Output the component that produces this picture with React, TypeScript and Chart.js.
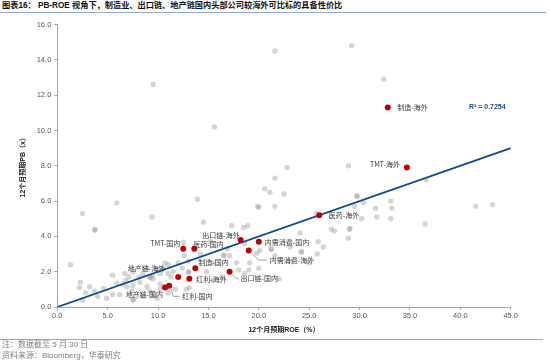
import React, { useEffect, useRef } from "react";
import { Chart, registerables } from "chart.js";

Chart.register(...registerables);

// ---------- data ----------
const GRAY_ROE = [
  29.2, 21.6, 9.5, 32.4, 15.6, 22.8, 28.9, 21.6, 36.6, 20.6,
  21.1, 22.5, 29.7, 29.8, 13.9, 5.9, 19.9, 20.0, 21.6, 30.4,
  33.1, 31.6, 33.2, 41.5, 43.2, 2.5, 9.4, 25.7, 29.5, 30.2,
  31.7, 33.1, 36.5, 14.5, 17.3, 18.5, 18.9, 3.7, 3.75, 27.2,
  27.5, 29.0, 29.05, 28.9, 24.1, 25.9, 26.4, 24.2, 24.25, 25.8,
  25.0, 23.1, 22.0, 12.5, 15.2, 20.1, 21.2, 21.25, 21.6, 23.0,
  16.5, 16.55, 17.1, 19.1, 20.0, 17.8, 18.0, 18.6, 19.0, 16.4,
  15.4, 14.8, 15.5, 14.2, 12.6, 13.0, 13.05, 13.0, 12.4, 10.7,
  11.0, 11.5, 12.8, 13.1, 11.7, 9.2, 9.25, 9.5, 10.2, 9.9,
  9.5, 8.2, 7.5, 7.4, 7.5, 7.55, 6.8, 7.1, 6.5, 6.2,
  5.5, 5.5, 4.9, 4.0, 2.8, 2.5, 2.3, 2.2, 1.3, 7.5,
  8.1, 8.5, 8.9, 9.4, 9.9, 10.2, 10.5, 11.0, 11.3, 12.0,
  10.2, 10.5, 8.9, 9.2, 7.9, 6.9, 5.9, 4.6, 3.7, 3.2,
  8.5, 11.0, 6.7, 18.6, 16.9, 19.8,
];
const GRAY_PB = [
  14.8, 14.5, 12.6, 12.9, 10.2, 7.9, 8.0, 7.3, 7.2, 6.7,
  6.5, 6.4, 6.3, 6.25, 6.1, 5.9, 5.7, 5.65, 5.7, 5.9,
  6.0, 5.6, 5.6, 5.7, 5.8, 5.3, 5.1, 5.3, 5.7, 5.0,
  5.1, 5.0, 4.7, 4.8, 4.6, 4.5, 4.6, 4.4, 4.35, 4.4,
  4.3, 4.4, 4.45, 3.9, 4.2, 3.7, 3.4, 3.1, 3.15, 3.0,
  2.5, 3.4, 1.6, 3.65, 3.7, 3.2, 3.3, 3.25, 2.9, 2.6,
  2.9, 2.95, 2.9, 2.5, 2.2, 2.5, 2.1, 1.9, 2.1, 1.7,
  1.5, 2.0, 2.5, 3.0, 2.9, 2.0, 1.95, 2.6, 2.2, 2.5,
  1.9, 2.0, 1.0, 1.1, 1.0, 1.7, 1.65, 1.6, 1.3, 0.5,
  0.7, 1.4, 1.2, 0.9, 0.4, 0.42, 1.5, 1.7, 1.3, 0.7,
  1.8, 0.7, 0.5, 0.6, 0.8, 0.4, 1.4, 1.1, 2.4, 2.0,
  1.7, 1.9, 2.2, 1.8, 2.1, 1.9, 2.2, 2.4, 1.7, 2.5,
  1.0, 1.15, 1.15, 0.9, 0.6, 1.15, 1.35, 1.05, 0.9, 1.15,
  0.6, 0.8, 1.9, 3.6, 3.3, 3.05,
];

const RED_NAMES = [
  "制造-海外", "TMT-海外", "医药-海外", "内需消费-国内", "出口链-海外", "内需消费-海外", "TMT-国内",
  "医药-国内", "制造-国内", "出口链-国内", "地产链-海外", "红利-海外", "地产链-国内", "红利-国内",
];
const RED_ROE = [32.8, 34.7, 26.0, 20.0, 18.2, 19.0, 12.5, 13.6, 13.7, 17.1, 12.0, 13.1, 10.7, 11.1];
const RED_PB = [11.3, 7.9, 5.2, 3.7, 3.8, 3.2, 3.3, 3.3, 2.2, 2.0, 1.7, 1.6, 1.1, 1.2];

const TREND_ROE = [0, 45];
const TREND_PB = [0, 9.0];
const R2_TEXT = "R² = 0.7254";

const X_TICKS = [0, 5, 10, 15, 20, 25, 30, 35, 40, 45];
const Y_TICKS = [0, 2, 4, 6, 8, 10, 12, 14, 16];

const TITLE = "图表16： PB-ROE 视角下，制造业、出口链、地产链国内头部公司较海外可比标的具备性价比";
const X_TITLE = "12个月预期ROE（%）";
const Y_TITLE = "12个月预期PB（x）";
const NOTE_1 = "注：数据截至 5 月 30 日";
const NOTE_2 = "资料来源：Bloomberg，华泰研究";

// ---------- label layout (pixel offsets from each red point) ----------
type Layout = { dx: number; dy: number; align: CanvasTextAlign; leader?: number[][] };
const LABEL_LAYOUT: Layout[] = [
  { dx: 9.5, dy: 0, align: "left" },
  { dx: -7, dy: -3, align: "right" },
  { dx: 9.5, dy: 0, align: "left" },
  { dx: 6, dy: 1, align: "left" },
  { dx: -1, dy: -5, align: "right" },
  { dx: 21, dy: 10, align: "left", leader: [[3, 3], [10, 9.5], [18, 9.5]] },
  { dx: -3, dy: -5, align: "right" },
  { dx: -1, dy: -4.5, align: "left" },
  { dx: 3, dy: -5.5, align: "left" },
  { dx: 11, dy: 7, align: "left", leader: [[3, 3], [7, 7], [9, 7]] },
  { dx: -13, dy: -9, align: "right" },
  { dx: 7, dy: 1, align: "left" },
  { dx: -2, dy: 7, align: "right" },
  { dx: 13, dy: 10.5, align: "left", leader: [[2, 3], [4, 10.5], [11, 10.5]] },
];
const R2_AT = [40.85, 11.35];

const LATIN = '"Liberation Sans", Arial, "Noto Sans CJK SC", sans-serif';
const CJK = '"Noto Sans CJK SC", "Liberation Sans", sans-serif';

const labelPlugin = {
  id: "pointLabels",
  afterDatasetsDraw(chart: any) {
    const { ctx, scales } = chart;
    const x = scales.x;
    const y = scales.y;
    ctx.save();
    ctx.textBaseline = "middle";
    RED_NAMES.forEach((name, i) => {
      const px = x.getPixelForValue(RED_ROE[i]);
      const py = y.getPixelForValue(RED_PB[i]);
      const L = LABEL_LAYOUT[i];
      if (L.leader) {
        ctx.strokeStyle = "#8c8c8c";
        ctx.lineWidth = 0.8;
        ctx.beginPath();
        L.leader.forEach(([dx, dy], k) => {
          if (k === 0) ctx.moveTo(px + dx, py + dy);
          else ctx.lineTo(px + dx, py + dy);
        });
        ctx.stroke();
      }
      ctx.font = `7px ${CJK}`;
      ctx.fillStyle = "#3a3a3a";
      ctx.textAlign = L.align;
      ctx.fillText(name, px + L.dx, py + L.dy);
    });
    ctx.font = `bold 7px ${LATIN}`;
    ctx.fillStyle = "#1F4E8C";
    ctx.textAlign = "left";
    ctx.fillText(R2_TEXT, x.getPixelForValue(R2_AT[0]), y.getPixelForValue(R2_AT[1]));
    ctx.restore();
  },
};

export default function App() {
  const canvasRef = useRef<HTMLCanvasElement | null>(null);

  useEffect(() => {
    const canvas = canvasRef.current;
    if (!canvas) return;
    const axisColor = "#a6a6a6";
    const tickColor = "#595959";
    const chart = new Chart(canvas, {
      type: "scatter",
      data: {
        datasets: [
          {
            label: "red",
            data: RED_ROE.map((v, i) => ({ x: v, y: RED_PB[i] })),
            backgroundColor: "#C00000",
            borderColor: "#C00000",
            borderWidth: 0,
            pointRadius: 3,
            order: 1,
          } as any,
          {
            type: "line",
            label: "trend",
            data: TREND_ROE.map((v, i) => ({ x: v, y: TREND_PB[i] })),
            borderColor: "#0F4C90",
            borderWidth: 1.8,
            pointRadius: 0,
            fill: false,
            order: 2,
          } as any,
          {
            label: "gray",
            data: GRAY_ROE.map((v, i) => ({ x: v, y: GRAY_PB[i] })),
            backgroundColor: "rgba(150,150,150,0.4)",
            borderWidth: 0,
            pointRadius: 2.7,
            order: 3,
          } as any,
        ],
      },
      options: {
        animation: false,
        responsive: false,
        maintainAspectRatio: false,
        layout: { padding: { left: 0, top: 24.5, right: 39.3, bottom: 27 } },
        plugins: { legend: { display: false }, tooltip: { enabled: false } },
        scales: {
          x: {
            type: "linear",
            min: 0,
            max: 45,
            afterBuildTicks: (s: any) => {
              s.ticks = X_TICKS.map((v) => ({ value: v }));
            },
            afterFit: (s: any) => {
              s.height = 30;
            },
            ticks: {
              autoSkip: false,
              maxRotation: 0,
              padding: 1,
              color: tickColor,
              font: { family: LATIN, size: 7.5 },
              callback: (v: any) => Number(v).toFixed(1),
            },
            grid: { drawOnChartArea: false, drawTicks: true, tickLength: 3, color: axisColor },
            border: { display: true, color: axisColor, width: 1 },
            title: {
              display: true,
              text: X_TITLE,
              color: "#1a1a1a",
              font: { family: LATIN, size: 7, weight: "bold" },
              padding: { top: 0, bottom: 2.5 },
            },
          },
          y: {
            type: "linear",
            min: 0,
            max: 16,
            afterBuildTicks: (s: any) => {
              s.ticks = Y_TICKS.map((v) => ({ value: v }));
            },
            afterFit: (s: any) => {
              s.width = 57.3;
            },
            ticks: {
              autoSkip: false,
              padding: 3,
              color: tickColor,
              font: { family: LATIN, size: 7.5 },
              callback: (v: any) => Number(v).toFixed(1),
            },
            grid: { drawOnChartArea: false, drawTicks: true, tickLength: 3, color: axisColor },
            border: { display: true, color: axisColor, width: 1 },
            title: {
              display: true,
              text: Y_TITLE,
              color: "#1a1a1a",
              font: { family: LATIN, size: 7, weight: "bold" },
              padding: { top: 18.5, bottom: 0 },
            },
          },
        },
      } as any,
      plugins: [labelPlugin as any],
    });
    return () => chart.destroy();
  }, []);

  return (
    <div
      style={{
        position: "absolute",
        left: 0,
        top: 0,
        width: 550,
        height: 364,
        background: "#ffffff",
        overflow: "hidden",
      }}
    >
      <div
        style={{
          position: "absolute",
          left: 2,
          top: 1,
          fontFamily: LATIN,
          fontSize: 8.2,
          fontWeight: 700,
          lineHeight: "10px",
          whiteSpace: "nowrap",
          color: "#111",
        }}
      >
        {TITLE}
      </div>
      <div style={{ position: "absolute", left: 0, top: 12, width: 546, height: 1, background: "#8FAADC" }} />
      <canvas
        ref={canvasRef}
        width={550}
        height={364}
        style={{ position: "absolute", left: 0, top: 0, width: 550, height: 364, display: "block" }}
      />
      <div style={{ position: "absolute", left: 0, top: 339, width: 543, height: 1, background: "#8FAADC" }} />
      <div
        style={{
          position: "absolute",
          left: 2,
          top: 340,
          fontFamily: LATIN,
          fontSize: 8,
          lineHeight: "10px",
          whiteSpace: "nowrap",
          color: "#7f7f7f",
        }}
      >
        {NOTE_1}
      </div>
      <div
        style={{
          position: "absolute",
          left: 2,
          top: 351,
          fontFamily: LATIN,
          fontSize: 8,
          lineHeight: "10px",
          whiteSpace: "nowrap",
          color: "#7f7f7f",
        }}
      >
        {NOTE_2}
      </div>
    </div>
  );
}
